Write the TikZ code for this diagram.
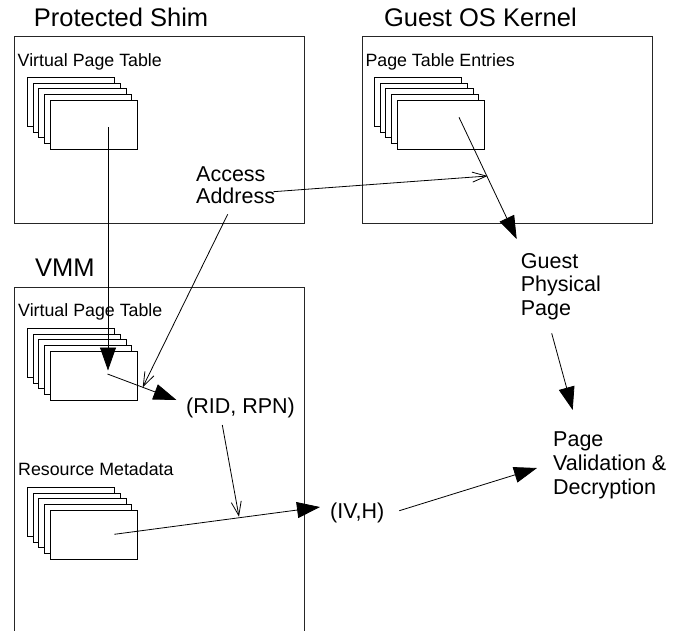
\documentclass[tikz,border=0pt]{standalone}
\usepackage{fontspec}
\setmainfont{Liberation Sans}
\usetikzlibrary{arrows.meta,calc}
\tikzset{
  region/.style={draw=black!85, line width=0.9pt},
  pagebox/.style={draw=black, fill=white, line width=0.9pt, minimum width=87.5pt,
    minimum height=49pt, inner sep=0pt, outer sep=0pt, anchor=north west},
  titletext/.style={font=\fontsize{25.5}{28}\selectfont, inner sep=0pt, anchor=base west},
  smalltext/.style={font=\fontsize{17.8}{20}\selectfont, inner sep=0pt, anchor=base west},
  midtext/.style={font=\fontsize{21.5}{23}\selectfont, inner sep=0pt, anchor=base west},
  multitext/.style={inner sep=0pt, anchor=north west, align=left},
  bigarrow/.style={line width=0.8pt, -{Triangle[length=23pt,width=16pt]}},
  openarrow/.style={line width=0.8pt, -{Straight Barb[length=14pt,width=10pt]}},
}
\newcommand\pagestack[3]{%
  \foreach \k in {0,...,4}{\node[pagebox] (#1\k) at ({#2+5.7*\k},{#3+5.7*\k}) {};}%
}
\begin{document}
\begin{tikzpicture}[x=1pt,y=-1pt]
\useasboundingbox (0,0) rectangle (677,630);
\fill[white] (0,0) rectangle (677,630);

% regions
\node[region, minimum width=290pt, minimum height=187pt, inner sep=0pt, anchor=north west] (shim) at (14,36) {};
\node[region, minimum width=290pt, minimum height=187pt, inner sep=0pt, anchor=north west] (guest) at (361.7,36) {};
\draw[region] (14,632) -- (14,287) -- (304,287) -- (304,632);

% titles
\node[titletext] (tshim) at (33.7,26.7) {Protected Shim};
\node[titletext] (tguest) at (383.8,26.7) {Guest OS Kernel};
\node[titletext] (tvmm) at (35,276.7) {VMM};

% labels
\node[smalltext] (lvpt1) at (17.5,66.3) {Virtual Page Table};
\node[smalltext] (lpte) at (365.3,66.7) {Page Table Entries};
\node[smalltext] (lvpt2) at (18,316) {Virtual Page Table};
\node[smalltext] (lrm) at (18,475.7) {Resource Metadata};

% stacks
\pagestack{sa}{27.3}{77.3}
\pagestack{gb}{374.3}{77.3}
\pagestack{va}{27.3}{328.3}
\pagestack{rm}{27.3}{487.3}

% texts
\node[multitext, font=\fontsize{21.5}{22}\selectfont] (acc) at (196,166.8) {Access\\Address};
\node[midtext] (rid) at (186,413) {(RID, RPN)};
\node[midtext] (ivh) at (330,518) {(IV,H)};
\node[multitext, font=\fontsize{21.5}{23.5}\selectfont] (gpp) at (520.7,252.9) {Guest\\Physical\\Page};
\node[multitext, font=\fontsize{21.5}{24}\selectfont] (pvd) at (553,431.6) {Page\\Validation \&\\Decryption};

% connector end points
\coordinate (sa-out) at (108,127);
\coordinate (va-in) at (108,370.5);
\coordinate (va-out) at (107.5,374);
\coordinate (rid-in) at (176.5,400);
\coordinate (acc-r) at (273.3,191.7);
\coordinate (gb-in) at (487.5,176);
\coordinate (acc-d) at (227.7,214.3);
\coordinate (va-hit) at (142.7,387.3);
\coordinate (gb-out) at (459,117.3);
\coordinate (gpp-in) at (516.7,239);
\coordinate (gpp-out) at (551.7,333.3);
\coordinate (pvd-top) at (572.7,410);
\coordinate (rid-out) at (222.3,425);
\coordinate (rm-hit) at (239,516.7);
\coordinate (rm-out) at (114.3,534.3);
\coordinate (ivh-in) at (320,507);
\coordinate (ivh-out) at (399.3,510.7);
\coordinate (pvd-in) at (537,468);

% connectors
\draw[bigarrow] (sa-out) -- (va-in);
\draw[bigarrow] (va-out) -- (rid-in);
\draw[openarrow] (acc-r) -- (gb-in);
\draw[openarrow] (acc-d) -- (va-hit);
\draw[bigarrow] (gb-out) -- (gpp-in);
\draw[bigarrow] (gpp-out) -- (pvd-top);
\draw[openarrow] (rid-out) -- (rm-hit);
\draw[bigarrow] (rm-out) -- (ivh-in);
\draw[bigarrow] (ivh-out) -- (pvd-in);
\end{tikzpicture}
\end{document}
